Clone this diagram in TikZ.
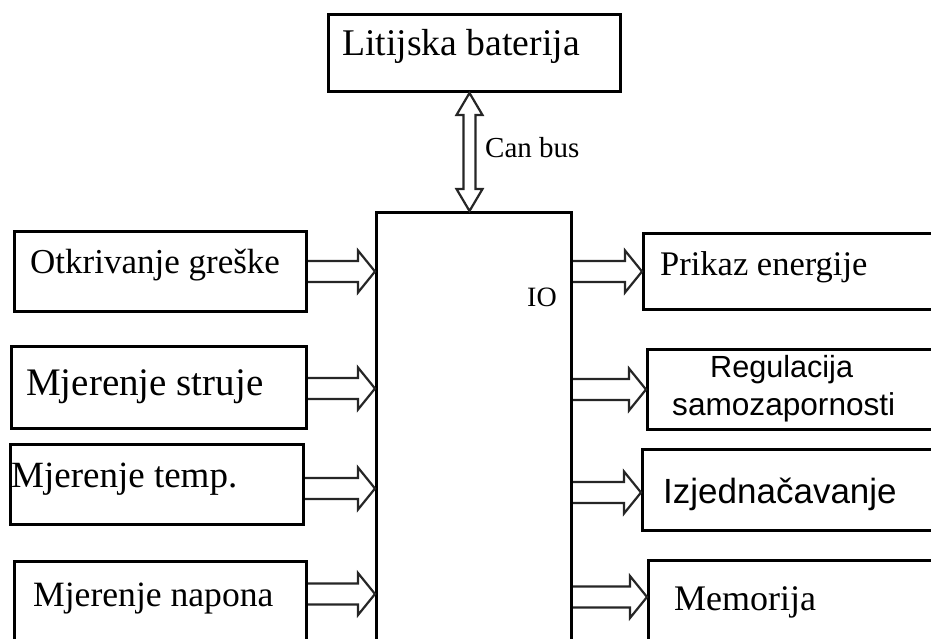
\documentclass[tikz,border=0pt]{standalone}
\usepackage{fontspec}
\setmainfont{Liberation Serif}
\newfontfamily\sansf{Liberation Sans}
\usetikzlibrary{calc}
\newcommand\myfs[1]{\fontsize{#1}{#1}\selectfont}
\tikzset{
  box/.style={draw=black, line width=3pt, inner sep=0pt, anchor=north west},
  lbl/.style={inner sep=0pt, anchor=base west, text=black},
  arr/.style={draw=black!85, line width=2.2pt, line join=miter},
  hollow/.style={to path={let \p1=(\tikztostart), \p2=(\tikztotarget) in
    (\x1,\y2+10.5pt) -- (\x2-17pt,\y2+10.5pt) -- (\x2-17pt,\y2+21pt) -- (\x2,\y2)
    -- (\x2-17pt,\y2-21pt) -- (\x2-17pt,\y2-10.5pt) -- (\x1,\y2-10.5pt)}},
  vbus/.style={to path={let \p1=(\tikztostart), \p2=(\tikztotarget) in
    (\x1,\y1) -- (\x1+13pt,\y1-22pt) -- (\x1+6pt,\y1-22pt) -- (\x1+6pt,\y2+22pt)
    -- (\x1+13pt,\y2+22pt) -- (\x1,\y2) -- (\x1-13pt,\y2+22pt) -- (\x1-6pt,\y2+22pt)
    -- (\x1-6pt,\y1-22pt) -- (\x1-13pt,\y1-22pt) -- cycle}}
}
\begin{document}
\begin{tikzpicture}[x=1pt,y=-1pt]
\useasboundingbox (0,0) rectangle (931,638);
\clip (0,0) rectangle (931,638);
% boxes
\node[box, minimum width=292, minimum height=77] (bat) at (327,13) {};
\node[box, minimum width=195, minimum height=500] (main) at (375,211) {};
\node[box, minimum width=292, minimum height=80] (otk) at (13,230) {};
\node[box, minimum width=295, minimum height=82] (str) at (10,345) {};
\node[box, minimum width=293, minimum height=80] (tmp) at (9,443) {};
\node[box, minimum width=292, minimum height=140] (nap) at (13,560) {};
\node[box, minimum width=318, minimum height=76] (prk) at (642,232) {};
\node[box, minimum width=314, minimum height=80] (reg) at (646,348) {};
\node[box, minimum width=319, minimum height=81] (izj) at (641,448) {};
\node[box, minimum width=313, minimum height=140] (mem) at (647,559) {};
% texts
\node[lbl] (tbat) at (342,55) {\myfs{37.7}Litijska baterija};
\node[lbl] (tcan) at (485,157) {\myfs{29}Can bus};
\node[lbl] (tio) at (527,306) {\myfs{28}IO};
\node[lbl] (totk) at (30,273) {\myfs{35}Otkrivanje greške};
\node[lbl] (tstr) at (26,395) {\myfs{39}Mjerenje struje};
\node[lbl] (ttmp) at (11,487) {\myfs{37}Mjerenje temp.};
\node[lbl] (tnap) at (33,606) {\myfs{35.6}Mjerenje napona};
\node[lbl] (tprk) at (660,275) {\myfs{34.5}Prikaz energije};
\node[lbl] (treg) at (710,377) {\sansf\myfs{30.6}Regulacija};
\node[lbl] (tsam) at (672,415) {\sansf\myfs{31.6}samozapornosti};
\node[lbl] (tizj) at (663,503) {\sansf\myfs{35}Izjednačavanje};
\node[lbl] (tmem) at (674,610) {\myfs{36}Memorija};
% connectors
\draw[arr] ([xshift=-5pt]bat.south) to[vbus] ([xshift=-4.5pt]main.north);
\draw[arr] (otk.east) to[hollow] (otk.east -| main.west);
\draw[arr] ([yshift=-1pt]str.east) to[hollow] ([yshift=-1pt]str.east -| main.west);
\draw[arr] ([yshift=-4pt]tmp.east) to[hollow] ([yshift=-4pt]tmp.east -| main.west);
\draw[arr] ([yshift=-34pt]nap.north east) to[hollow] ([yshift=-34pt]nap.north east -| main.west);
\draw[arr] (main.east |- prk.west) to[hollow] (prk.west);
\draw[arr] (main.east |- reg.west) to[hollow] (reg.west);
\draw[arr] ([yshift=-2.5pt]main.east |- izj.west) to[hollow] ([yshift=-2.5pt]izj.west);
\draw[arr] ([yshift=-38pt]main.east |- mem.north west) to[hollow] ([yshift=-38pt]mem.north west);
\end{tikzpicture}
\end{document}
